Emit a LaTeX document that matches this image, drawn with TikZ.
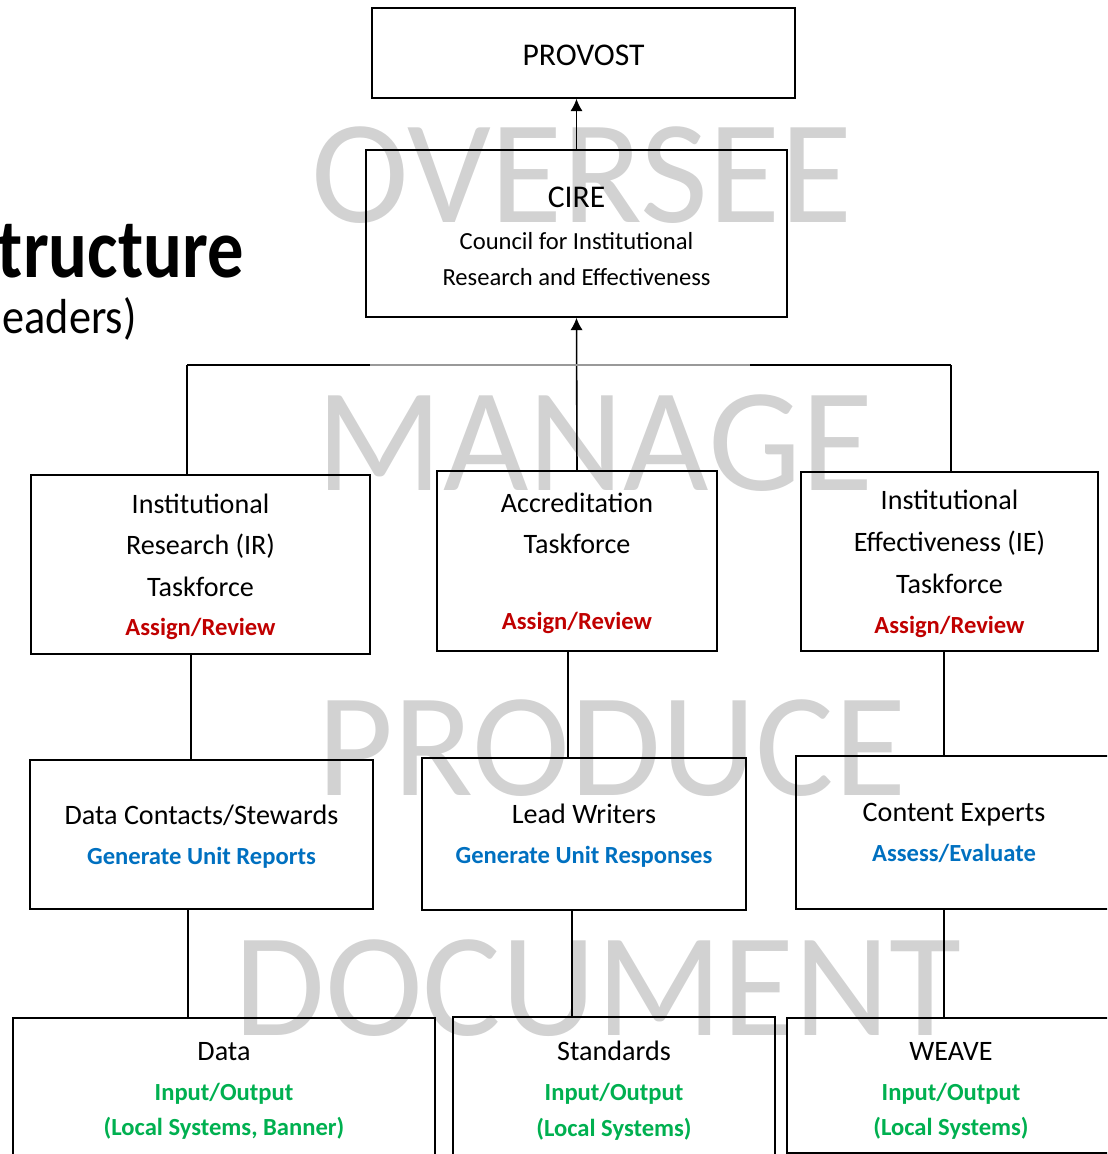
\documentclass[tikz,border=0pt]{standalone}
\usepackage{fontspec}
\setmainfont{Carlito}
\usetikzlibrary{arrows.meta}
\newlength{\px}
\setlength{\px}{0.02cm}
\definecolor{assignred}{HTML}{C00000}
\definecolor{unitblue}{HTML}{0070C0}
\definecolor{iogreen}{HTML}{00B050}
\definecolor{markgray}{HTML}{D2D2D2}
\tikzstyle{block} = [draw, rectangle, line width=0.9pt, align=center, inner sep=0pt, text depth=0pt, font=\fontsize{16}{23.8}\selectfont]
\tikzstyle{lowblock} = [block, font=\fontsize{16}{22.7}\selectfont]
\tikzstyle{line} = [draw, line width=0.9pt]
\tikzstyle{arrowline} = [draw, line width=0.9pt, -{Latex[length=7pt,width=7pt]}]
\tikzstyle{watermark} = [text=markgray, font=\fontsize{84}{84}\selectfont, anchor=base, inner sep=0pt]
\newcommand{\tasknote}[1]{\textcolor{assignred}{\fontsize{14}{16}\selectfont\bfseries #1}}
\newcommand{\unitnote}[1]{\textcolor{unitblue}{\fontsize{14}{16}\selectfont\bfseries #1}}
\newcommand{\ionote}[1]{\textcolor{iogreen}{\fontsize{14}{16}\selectfont\bfseries #1}}
\newcommand{\topstrut}[1]{\rule{0pt}{#1}}

\begin{document}
\begin{tikzpicture}[x=\px, y=-\px]
    \useasboundingbox (0,0) rectangle (1107,1154);
    \clip (0,0) rectangle (1107,1154);

    % Watermarks
    \node [watermark] (wmoversee) at (582,222) {OVERSEE};
    \node [watermark] (wmmanage) at (595,490) {MANAGE};
    \node [watermark] (wmproduce) at (612,795) {PRODUCE};
    \node [watermark] (wmdocument) at (598,1035) {DOCUMENT};

    % Title
    \node [anchor=base east, inner sep=0pt, font=\bfseries\fontsize{48}{48}\selectfont] (title) at (244,277) {\scalebox{0.86}[1]{tructure}};
    \node [anchor=base east, inner sep=0pt, font=\fontsize{28}{28}\selectfont] (subtitle) at (137,333) {\scalebox{0.9}[1]{eaders)}};

    % Nodes
    \node [block, minimum width=423\px, minimum height=90\px, font=\fontsize{18}{22}\selectfont] (provost) at (583.5,53) {\topstrut{14.5pt}PROVOST};
    \node [block, minimum width=421\px, minimum height=167\px, font=\fontsize{14}{20.4}\selectfont] (cire) at (576.5,233.5) {{\fontsize{18}{22}\selectfont\topstrut{15pt}CIRE}\\[3.4pt] Council for Institutional\\ Research and Effectiveness};

    \node [block, minimum width=339\px, minimum height=179\px] (ir) at (200.5,564.5) {Institutional\\ Research (IR)\\ Taskforce\\[-1.7pt] \tasknote{Assign/Review}};
    \node [block, minimum width=280\px, minimum height=180\px] (accr) at (577,561) {Accreditation\\ Taskforce\\[19.3pt] \tasknote{Assign/Review}};
    \node [block, minimum width=297\px, minimum height=179\px] (ie) at (949.5,561.5) {Institutional\\ Effectiveness (IE)\\ Taskforce\\[-1.1pt] \tasknote{Assign/Review}};

    \node [lowblock, minimum width=343\px, minimum height=149\px] (dcs) at (201.5,834.5) {Data Contacts/Stewards\\ \unitnote{Generate Unit Reports}};
    \node [lowblock, minimum width=324\px, minimum height=152\px] (lead) at (584,834) {Lead Writers\\ \unitnote{Generate Unit Responses}};
    \node [lowblock, minimum width=316\px, minimum height=153\px] (expert) at (954,832.5) {Content Experts\\ \unitnote{Assess/Evaluate}};

    \node [lowblock, minimum width=422\px, minimum height=142\px] (data) at (224,1089) {Data\\ \ionote{Input/Output}\\[-2.3pt] \ionote{(Local Systems, Banner)}};
    \node [lowblock, minimum width=322\px, minimum height=143\px] (std) at (614,1088.5) {Standards\\ \ionote{Input/Output}\\[-2.3pt] \ionote{(Local Systems)}};
    \node [lowblock, minimum width=328\px, minimum height=135\px] (weave) at (951,1085.5) {\topstrut{14.3pt}WEAVE\\ \ionote{Input/Output}\\[-2.3pt] \ionote{(Local Systems)}};

    % Coordinates
    \coordinate (busleft) at (187,365);
    \coordinate (busmidl) at (370,365);
    \coordinate (busmidr) at (750,365);
    \coordinate (busright) at (951,365);
    \coordinate (linkir) at (191,0);
    \coordinate (linkaccr) at (568,0);
    \coordinate (linkie) at (944,0);
    \coordinate (linkdcs) at (188,0);
    \coordinate (linklead) at (572,0);
    \coordinate (linkexpert) at (944,0);

    % Paths
    \path [arrowline] (cire.north) -- (cire.north |- provost.south);
    \path [arrowline] (accr.north) -- (cire.south);
    \path [line] (busleft) -- (busmidl);
    \path [line, draw=black!40] (busmidl) -- (busmidr);
    \path [line] (busmidr) -- (busright);
    \path [line] (busleft) -- (busleft |- ir.north);
    \path [line] (busright) -- (busright |- ie.north);
    \path [line] (linkir |- ir.south) -- (linkir |- dcs.north);
    \path [line] (linkaccr |- accr.south) -- (linkaccr |- lead.north);
    \path [line] (linkie |- ie.south) -- (linkie |- expert.north);
    \path [line] (linkdcs |- dcs.south) -- (linkdcs |- data.north);
    \path [line] (linklead |- lead.south) -- (linklead |- std.north);
    \path [line] (linkexpert |- expert.south) -- (linkexpert |- weave.north);
\end{tikzpicture}
\end{document}
